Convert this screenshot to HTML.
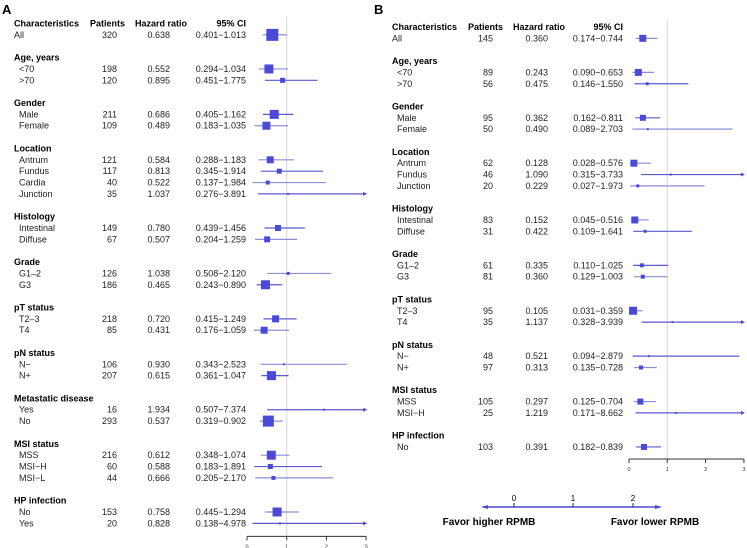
<!DOCTYPE html>
<html><head><meta charset="utf-8"><style>
html,body{margin:0;padding:0;background:#fff;}
svg{display:block;font-family:"Liberation Sans",Arial,sans-serif;}
</style></head><body>
<svg id="chart" width="747" height="548" viewBox="0 0 747 548">
<text x="2" y="14" font-size="13" font-weight="bold">A</text>
<text x="374" y="14" font-size="13" font-weight="bold">B</text>
<g id="pa"></g>
<g id="pb"></g>
<g>
<line x1="483" y1="507" x2="660" y2="507" stroke="#4a4ad8" stroke-width="1.5"/>
<polygon points="481,507 488,505 488,509" fill="#4a4ad8"/>
<polygon points="662,507 655,505 655,509" fill="#4a4ad8"/>
<line x1="514" y1="503" x2="514" y2="507" stroke="#333"/><line x1="573" y1="503" x2="573" y2="507" stroke="#333"/><line x1="633" y1="503" x2="633" y2="507" stroke="#333"/>
<text x="514" y="501" font-size="8" text-anchor="middle">0</text>
<text x="573" y="501" font-size="8" text-anchor="middle">1</text>
<text x="633" y="501" font-size="8" text-anchor="middle">2</text>
<text x="489" y="525" font-size="10" font-weight="bold" text-anchor="middle">Favor higher RPMB</text>
<text x="655" y="525" font-size="10" font-weight="bold" text-anchor="middle">Favor lower RPMB</text>
</g>
</svg>
<script>
// Panel A data
const aLabels=["All","H:Age, years","<70",">70","H:Gender","Male","Female","H:Location","Antrum","Fundus","Cardia","Junction","H:Histology","Intestinal","Diffuse","H:Grade","G1–2","G3","H:pT status","T2–3","T4","H:pN status","N−","N+","H:Metastatic disease","Yes","No","H:MSI status","MSS","MSI−H","MSI−L","H:HP infection","No","Yes"];
const aPatients=[320,null,198,120,null,211,109,null,121,117,40,35,null,149,67,null,126,186,null,218,85,null,106,207,null,16,293,null,216,60,44,null,153,20];
const aHR=[0.638,null,0.552,0.895,null,0.686,0.489,null,0.584,0.813,0.522,1.037,null,0.780,0.507,null,1.038,0.465,null,0.720,0.431,null,0.930,0.615,null,1.934,0.537,null,0.612,0.588,0.666,null,0.758,0.828];
const aLow=[0.401,null,0.294,0.451,null,0.405,0.183,null,0.288,0.345,0.137,0.276,null,0.439,0.204,null,0.508,0.243,null,0.415,0.176,null,0.343,0.361,null,0.507,0.319,null,0.348,0.183,0.205,null,0.445,0.138];
const aHigh=[1.013,null,1.034,1.775,null,1.162,1.035,null,1.183,1.914,1.984,3.891,null,1.456,1.259,null,2.120,0.890,null,1.249,1.059,null,2.523,1.047,null,7.374,0.902,null,1.074,1.891,2.170,null,1.294,4.978];
const aBox=[12,null,9,5,null,9,8,null,7,5,4,2,null,6,6,null,3,9,null,7,7,null,2,9,null,2,11,null,9,5,4,null,9,2];
// Panel B data
const bLabels=["All","H:Age, years","<70",">70","H:Gender","Male","Female","H:Location","Antrum","Fundus","Junction","H:Histology","Intestinal","Diffuse","H:Grade","G1–2","G3","H:pT status","T2–3","T4","H:pN status","N−","N+","H:MSI status","MSS","MSI−H","H:HP infection","No"];
const bPatients=[145,null,89,56,null,95,50,null,62,46,20,null,83,31,null,61,81,null,95,35,null,48,97,null,105,25,null,103];
const bHR=[0.360,null,0.243,0.475,null,0.362,0.490,null,0.128,1.090,0.229,null,0.152,0.422,null,0.335,0.360,null,0.105,1.137,null,0.521,0.313,null,0.297,1.219,null,0.391];
const bLow=[0.174,null,0.090,0.146,null,0.162,0.089,null,0.028,0.315,0.027,null,0.045,0.109,null,0.110,0.129,null,0.031,0.328,null,0.094,0.135,null,0.125,0.171,null,0.182];
const bHigh=[0.744,null,0.653,1.550,null,0.811,2.703,null,0.576,3.733,1.973,null,0.516,1.641,null,1.025,1.003,null,0.359,3.939,null,2.879,0.728,null,0.704,8.662,null,0.839];
const bBox=[7,null,7,3,null,6,2,null,7,2,3,null,7,3,null,4,4,null,8,2,null,2,4,null,6,2,null,6];
const ticks=[0,1,2,3];
const NS="http://www.w3.org/2000/svg";
function mk(p,tag,at,txt){const e=document.createElementNS(NS,tag);for(const k in at)e.setAttribute(k,at[k]);if(txt!==undefined)e.textContent=txt;p.appendChild(e);return e;}
function panel(g,cfg,labels,pat,hr,lo,hi,box){
  const xs=v=>cfg.x0+v*cfg.unit;
  const ys=i=>cfg.y0+(i+1)*cfg.step;
  const xMax=3;
  let h;
  h=mk(g,"text",{x:cfg.cx,y:cfg.y0+3,"font-size":9,"font-weight":"bold"},"Characteristics");
  
  h=mk(g,"text",{x:cfg.px,y:cfg.y0+3,"font-size":9,"font-weight":"bold","text-anchor":"end"},"Patients");
  
  h=mk(g,"text",{x:cfg.hx,y:cfg.y0+3,"font-size":9,"font-weight":"bold","text-anchor":"end"},"Hazard ratio");
  
  h=mk(g,"text",{x:cfg.cix,y:cfg.y0+3,"font-size":9,"font-weight":"bold","text-anchor":"end"},"95% CI");
  
  // row index with blanks
  let r=0;const rowY=[];
  labels.forEach((l,i)=>{ if(l.startsWith("H:")&&i>0) r++; rowY.push(ys(r)); r++; });
  const lastY=rowY[rowY.length-1];
  const axisY=lastY+cfg.axisGap;
  const ref=mk(g,"line",{x1:xs(1),y1:cfg.y0-7,x2:xs(1),y2:axisY,stroke:"#ddd","stroke-width":1.2});
  
  labels.forEach((l,i)=>{
    const y=rowY[i];
    if(l.startsWith("H:")){
      const t=mk(g,"text",{x:cfg.cx,y:y+3,"font-size":9,"font-weight":"bold"},l.slice(2));
      
      return;
    }
    const sub=i>0?5:0;
    const t=mk(g,"text",{x:cfg.cx+sub,y:y+3,"font-size":9,fill:"#222"},l);
    
    mk(g,"text",{x:cfg.pnx,y:y+3,"font-size":9,fill:"#222","text-anchor":"end"},String(pat[i]));
    mk(g,"text",{x:cfg.hx-cfg.hOff,y:y+3,"font-size":9,fill:"#222","text-anchor":"end"},hr[i].toFixed(3));
    mk(g,"text",{x:cfg.cix,y:y+3,"font-size":9,fill:"#222","text-anchor":"end"},lo[i].toFixed(3)+"−"+hi[i].toFixed(3));
    const over=hi[i]>xMax;
    const x2=xs(Math.min(hi[i],xMax));
    const col=(i%2)?"#5a5ad0":"#8e8ed8";
    const ln=mk(g,"line",{x1:xs(lo[i]),y1:y,x2:x2,y2:y,stroke:col,"stroke-width":1.2});
    
    if(over){const a=mk(g,"polygon",{points:`${x2+1},${y} ${x2-3},${y-2} ${x2-3},${y+2}`,fill:"#4a4ad8"});
      }
    const s=box[i];
    const b=mk(g,"rect",{x:xs(hr[i])-s/2,y:y-s/2,width:s,height:s,fill:"#4a4ad8"});
    
  });
  const ax=mk(g,"line",{x1:xs(0),y1:axisY,x2:xs(3),y2:axisY,stroke:"#333","stroke-width":1});
  
  ticks.forEach(v=>{
    mk(g,"line",{x1:xs(v),y1:axisY,x2:xs(v),y2:axisY+4,stroke:"#333"});
    const tl=mk(g,"text",{x:xs(v),y:axisY+12,"font-size":5.5,"text-anchor":"middle",fill:"#333"},String(v));
    
  });
}
panel(document.getElementById("pa"),{x0:247,unit:39.7,y0:23.5,step:11.36,cx:14,px:125,pnx:117,hx:187,hOff:17,cix:246,axisGap:13},aLabels,aPatients,aHR,aLow,aHigh,aBox);
panel(document.getElementById("pb"),{x0:629,unit:38.3,y0:27,step:11.35,cx:392,px:503,pnx:493,hx:565,hOff:17,cix:623,axisGap:12},bLabels,bPatients,bHR,bLow,bHigh,bBox);
</script>
</body></html>
